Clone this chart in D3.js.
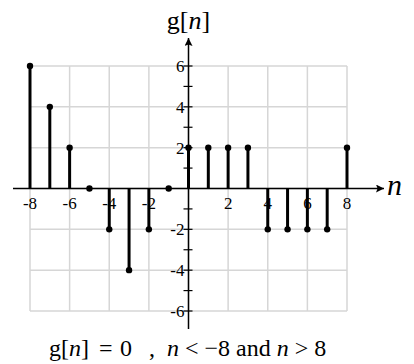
<!DOCTYPE html>
<html>
<head>
<meta charset="utf-8">
<script src="https://cdn.jsdelivr.net/npm/d3@7"></script>
<style>
  html, body { margin: 0; padding: 0; background: #fff; }
</style>
</head>
<body>
<svg id="chart" width="414" height="364"></svg>
<script>
// Discrete-time signal g[n], nonzero only for -8 <= n <= 8
const nValues = [-8, -7, -6, -5, -4, -3, -2, -1, 0, 1, 2, 3, 4, 5, 6, 7, 8];
const gValues = [6, 4, 2, 0, -2, -4, -2, 0, 2, 2, 2, 2, -2, -2, -2, -2, 2];
const xTickLabels = [-8, -6, -4, -2, 2, 4, 6, 8];
const yTickLabels = [-6, -4, -2, 2, 4, 6];
const yMinorTicks = [-5, -3, -1, 1, 3, 5];

const FONT = '"Liberation Serif", monospace';
const svg = d3.select("#chart");

const x = d3.scaleLinear().domain([-8, 8]).range([30, 347]);
const y = d3.scaleLinear().domain([-6, 6]).range([311, 66]);

// Light grid
const grid = svg.append("g").attr("stroke", "#d6d6d6").attr("stroke-width", 1.5);
grid.selectAll("line.v").data(d3.range(-8, 9, 2)).join("line")
  .attr("x1", d => x(d)).attr("x2", d => x(d))
  .attr("y1", y(6)).attr("y2", y(-6));
grid.selectAll("line.h").data(d3.range(-6, 7, 2)).join("line")
  .attr("x1", x(-8)).attr("x2", x(8))
  .attr("y1", d => y(d)).attr("y2", d => y(d));

// Arrowhead
svg.append("defs").append("marker")
  .attr("id", "arrow").attr("viewBox", "0 0 10 10")
  .attr("refX", 10).attr("refY", 5)
  .attr("markerWidth", 12).attr("markerHeight", 8)
  .attr("markerUnits", "userSpaceOnUse")
  .attr("orient", "auto")
  .append("path").attr("d", "M0,0 L10,5 L0,10 L2,5 Z").attr("fill", "#000");

// Axes
svg.append("line")
  .attr("x1", 13).attr("x2", 384)
  .attr("y1", y(0)).attr("y2", y(0))
  .attr("stroke", "#000").attr("stroke-width", 1.5)
  .attr("marker-end", "url(#arrow)");
svg.append("line")
  .attr("x1", x(0)).attr("x2", x(0))
  .attr("y1", 329).attr("y2", 38)
  .attr("stroke", "#000").attr("stroke-width", 1.5)
  .attr("marker-end", "url(#arrow)");

// Y ticks (major + minor)
svg.append("g").selectAll("line")
  .data(yTickLabels.concat(yMinorTicks)).join("line")
  .attr("x1", x(0) - 5).attr("x2", x(0) + 4)
  .attr("y1", d => y(d)).attr("y2", d => y(d))
  .attr("stroke", "#000").attr("stroke-width", 1.2);

// Y tick labels
svg.append("g").selectAll("text")
  .data(yTickLabels).join("text")
  .attr("x", x(0) - 4).attr("y", d => y(d))
  .attr("dy", "0.35em")
  .attr("text-anchor", "end")
  .attr("font-size", 17)
  .style("font-family", FONT)
  .text(d => d < 0 ? "-" + Math.abs(d) : d);

// X tick labels
svg.append("g").selectAll("text")
  .data(xTickLabels).join("text")
  .attr("x", d => x(d)).attr("y", y(0) + 20)
  .attr("text-anchor", "middle")
  .attr("font-size", 17)
  .style("font-family", FONT)
  .text(d => d < 0 ? "-" + Math.abs(d) : d);

// Stems
const pts = nValues.map((n, i) => ({ n, g: gValues[i] }));
svg.append("g").selectAll("line")
  .data(pts.filter(d => d.g !== 0)).join("line")
  .attr("x1", d => x(d.n)).attr("x2", d => x(d.n))
  .attr("y1", y(0)).attr("y2", d => y(d.g))
  .attr("stroke", "#000").attr("stroke-width", 3);

// Sample dots
svg.append("g").selectAll("circle")
  .data(pts).join("circle")
  .attr("cx", d => x(d.n)).attr("cy", d => y(d.g))
  .attr("r", 3.2).attr("fill", "#000");

// Axis labels
const title = svg.append("text")
  .attr("x", x(0)).attr("y", 29)
  .attr("text-anchor", "middle").attr("font-size", 26)
  .style("font-family", FONT);
title.append("tspan").text("g[");
title.append("tspan").attr("font-style", "italic").text("n");
title.append("tspan").text("]");

svg.append("text")
  .attr("x", 387).attr("y", y(0) + 6)
  .attr("font-size", 30).attr("font-style", "italic")
  .style("font-family", FONT)
  .text("n");

// Footnote, pieces placed individually to keep the wide spacing
const noteY = 356;
const noteText = (xPos) => svg.append("text").attr("x", xPos).attr("y", noteY)
  .attr("font-size", 24).style("font-family", FONT);
const lhs = noteText(49);
lhs.append("tspan").text("g[");
lhs.append("tspan").attr("font-style", "italic").text("n");
lhs.append("tspan").text("]");
noteText(99).text("=");
noteText(120).text("0");
noteText(149).text(",");
const rhs = noteText(167);
rhs.append("tspan").attr("font-style", "italic").text("n");
rhs.append("tspan").text(" < \u22128 and ");
rhs.append("tspan").attr("font-style", "italic").text("n");
rhs.append("tspan").text(" > 8");
</script>
</body>
</html>
